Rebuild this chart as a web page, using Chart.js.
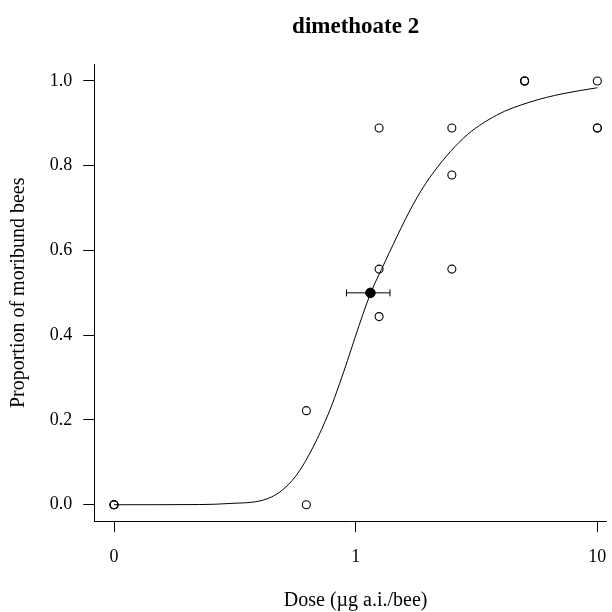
<!DOCTYPE html>
<html lang="en">
<head>
    <meta charset="UTF-8">
    <title>dimethoate 2</title>
    <style>
        html, body { margin: 0; padding: 0; background: #fff; }
    </style>
</head>
<body>
<script src="https://cdn.jsdelivr.net/npm/chart.js@4.4.1/dist/chart.umd.min.js"></script>
<canvas id="dr" width="612" height="612"></canvas>
<script>
    const chartTitle = 'dimethoate 2'
    const xTitle = 'Dose (µg a.i./bee)'
    const yTitle = 'Proportion of moribund bees'

    // observed proportions per dose (ug a.i./bee), control plotted at 0.1
    const controlAt = 0.1
    const doses = [0, 0, 0, 0.625, 0.625, 1.25, 1.25, 1.25, 2.5, 2.5, 2.5, 5, 5, 5, 10, 10, 10]
    const proportions = [0, 0, 0, 0.222, 0, 0.889, 0.556, 0.444, 0.889, 0.778, 0.556, 1, 1, 1, 1, 0.889, 0.889]

    // fitted curve
    const curveDose = [0.1, 0.2265, 0.3015, 0.414, 0.4854, 0.569, 0.6665, 0.7816, 0.8594, 1.151, 1.278, 1.727, 2.025, 2.781, 3.822, 5.248, 7.206, 10]
    const curveProp = [0, 0.0005, 0.003, 0.011, 0.030, 0.070, 0.136, 0.223, 0.287, 0.498, 0.555, 0.708, 0.772, 0.864, 0.919, 0.950, 0.970, 0.984]

    // ED50 with its interval
    const ed50 = 1.151
    const ed50Low = 0.916
    const ed50High = 1.387
    const ed50Prop = 0.5

    const xTickValues = [0.1, 1, 10]
    const xTickLabels = ['0', '1', '10']
    const yTickValues = [0, 0.2, 0.4, 0.6, 0.8, 1.0]

    const serif = '"Liberation Serif", "Times New Roman", serif'

    const obs = doses.map((d, i) => ({x: d === 0 ? controlAt : d, y: proportions[i]}))
    const curve = curveDose.map((d, i) => ({x: d, y: curveProp[i]}))

    // main title and x title centred over the plot region, like R does
    const titlePlugin = {
        id: 'plotTitle',
        afterDraw(chart) {
            const ctx = chart.ctx
            const cx = chart.scales.x.getPixelForValue(1)
            ctx.save()
            ctx.fillStyle = '#000'
            ctx.textAlign = 'center'
            ctx.textBaseline = 'alphabetic'
            ctx.font = 'bold 23px ' + serif
            ctx.fillText(chartTitle, cx, 33)
            ctx.font = '20px ' + serif
            ctx.fillText(xTitle, cx, 606)
            ctx.restore()
        }
    }

    const ctx = document.getElementById('dr').getContext('2d')
    new Chart(ctx, {
        type: 'scatter',
        data: {
            datasets: [
                {
                    data: curve,
                    showLine: true,
                    borderColor: '#000',
                    borderWidth: 1,
                    pointRadius: 0,
                    cubicInterpolationMode: 'monotone',
                    clip: false
                },
                {
                    data: [{x: ed50Low, y: ed50Prop}, {x: ed50High, y: ed50Prop}],
                    showLine: true,
                    borderColor: '#000',
                    borderWidth: 1,
                    pointStyle: 'line',
                    pointRotation: 90,
                    pointRadius: 3.5,
                    pointBorderColor: '#000',
                    pointBorderWidth: 1
                },
                {
                    data: [{x: ed50, y: ed50Prop}],
                    pointRadius: 4.8,
                    backgroundColor: '#000',
                    borderColor: '#000'
                },
                {
                    data: obs,
                    pointRadius: 4,
                    backgroundColor: 'rgba(0,0,0,0)',
                    borderColor: '#000',
                    borderWidth: 1.1,
                    clip: false
                }
            ]
        },
        options: {
            responsive: false,
            animation: false,
            layout: {padding: {top: 64, right: 0, left: 0, bottom: 0}},
            plugins: {
                legend: {display: false},
                tooltip: {enabled: false},
                title: {display: false}
            },
            scales: {
                x: {
                    type: 'logarithmic',
                    bounds: 'data',
                    // plot area ends ~5px short of the canvas, so max trimmed to keep 242px per decade
                    min: 0.0832,
                    max: 10.88,
                    afterFit: s => {
                        s.height = 90.3
                        s.paddingLeft = 0
                        s.paddingRight = 0
                    },
                    afterBuildTicks: s => { s.ticks = xTickValues.map(v => ({value: v})) },
                    border: {display: true, color: '#000', width: 1},
                    grid: {display: true, drawOnChartArea: false, drawTicks: true, tickLength: 10.5, tickColor: '#000'},
                    ticks: {
                        color: '#000',
                        padding: 0,
                        maxRotation: 0,
                        autoSkip: false,
                        font: {family: serif, size: 18, lineHeight: 2.75},
                        callback: (v, i) => xTickLabels[i]
                    },
                    title: {display: false}
                },
                y: {
                    bounds: 'data',
                    min: -0.04,
                    max: 1.04,
                    afterFit: s => {
                        s.width = 94.7
                    },
                    afterBuildTicks: s => { s.ticks = yTickValues.map(v => ({value: v})) },
                    border: {display: true, color: '#000', width: 1},
                    grid: {display: true, drawOnChartArea: false, drawTicks: true, tickLength: 11.4, tickColor: '#000'},
                    ticks: {
                        color: '#000',
                        padding: 11,
                        font: {family: serif, size: 18},
                        callback: v => v.toFixed(1)
                    },
                    title: {
                        display: true,
                        text: yTitle,
                        color: '#000',
                        font: {family: serif, size: 20},
                        padding: {top: 7, bottom: 0}
                    }
                }
            }
        },
        plugins: [titlePlugin]
    })
</script>
</body>
</html>
